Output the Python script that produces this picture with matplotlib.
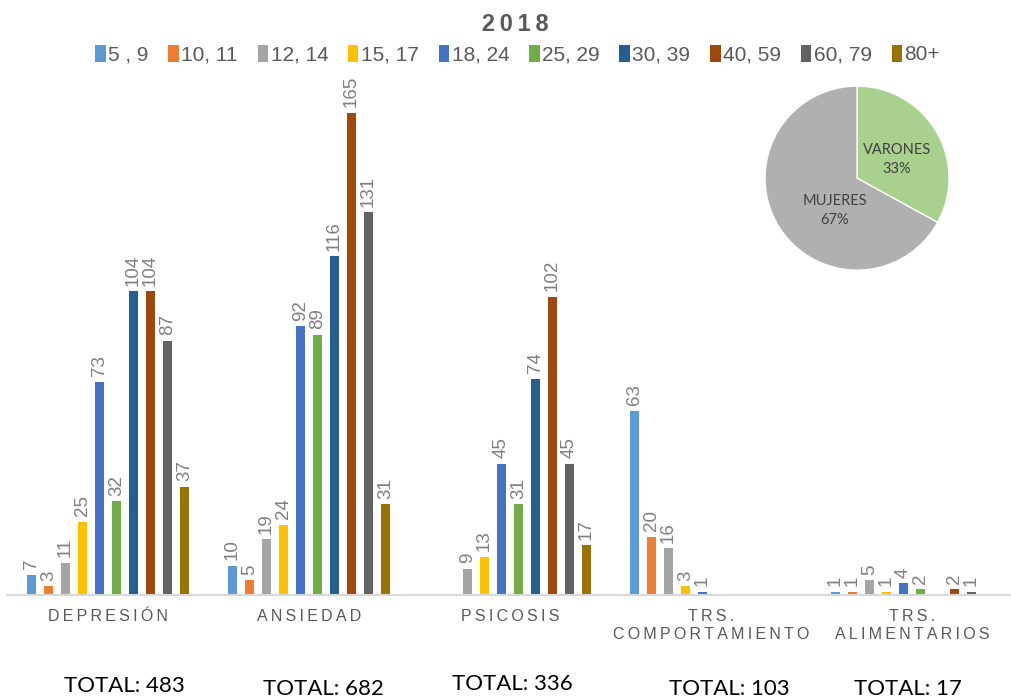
import matplotlib.pyplot as plt
import numpy as np

categories = ["DEPRESIÓN", "ANSIEDAD", "PSICOSIS", "TRS.\nCOMPORTAMIENTO", "TRS.\nALIMENTARIOS"]
age_groups = ["5 , 9", "10, 11", "12, 14", "15, 17", "18, 24", "25, 29", "30, 39", "40, 59", "60, 79", "80+"]
colors = ["#5B9BD5", "#ED7D31", "#A5A5A5", "#FFC000", "#4472C4",
          "#70AD47", "#255E91", "#9E480E", "#636363", "#997300"]

# rows = age group, columns = category
values = [
    [7, 10, 0, 63, 1],
    [3, 5, 0, 20, 1],
    [11, 19, 9, 16, 5],
    [25, 24, 13, 3, 1],
    [73, 92, 45, 1, 4],
    [32, 89, 31, 0, 2],
    [104, 116, 74, 0, 0],
    [104, 165, 102, 0, 2],
    [87, 131, 45, 0, 1],
    [37, 31, 17, 0, 0],
]
totals = ["TOTAL: 483", "TOTAL: 682", "TOTAL: 336", "TOTAL: 103", "TOTAL: 17"]

sex_labels = ["VARONES", "MUJERES"]
sex_pct = [33, 67]
sex_colors = ["#A9D18E", "#B0B0B0"]

plt.rcParams['font.family'] = ['Liberation Sans', 'DejaVu Sans']

fig = plt.figure(figsize=(10.11, 6.98), dpi=100)
ax = fig.add_axes([0.0074, 0.1476, 0.994, 0.7534])

x = np.arange(len(categories))
step = 0.0846
width = 0.046
for j, (name, vals) in enumerate(zip(age_groups, values)):
    bars = ax.bar(x + (j - 4.5) * step, vals, width, color=colors[j], label=name)
    ax.bar_label(bars, labels=[str(v) if v else "" for v in vals], rotation=90,
                 padding=4, fontsize=13.5, color="#808080")

ax.set_xlim(-0.5, 4.5)
ax.set_ylim(0, 180)
for s in ["top", "right", "left"]:
    ax.spines[s].set_visible(False)
ax.spines["bottom"].set_color("#D9D9D9")
ax.spines["bottom"].set_linewidth(1.5)
ax.set_yticks([])
ax.set_xticks(x)
spaced = ["\n".join("\u2009".join(line) for line in c.split("\n")) for c in categories]
ax.set_xticklabels(spaced, fontsize=11.5, color="#595959", linespacing=1.3)
ax.tick_params(axis="x", length=0, pad=10)

for i, t in enumerate(totals):
    dx = [0.08, 0.07, 0.01, 0.09, -0.02][i]
    dy = [0, -3, 2, -3, -3][i]
    ax.annotate(t, (i + dx, 0), xytext=(0, -91 + dy), textcoords="offset pixels",
                ha="center", va="center", fontsize=16, color="black", family="Lato")

fig.text(0.507, 0.965, "\u20092\u20090\u20091\u20098", ha="center", va="center", fontsize=17,
         fontweight="bold", color="#595959")
fig.legend(loc="center", bbox_to_anchor=(0.512, 0.922), ncol=10, frameon=False,
           prop=dict(family=["Liberation Sans Narrow", "Liberation Sans"], size=15),
           handlelength=0.5, handleheight=0.9, handletextpad=0.12,
           columnspacing=0.95, labelcolor="#595959")

pax = fig.add_axes([0.7567, 0.613, 0.182, 0.2636])
pax.pie(sex_pct, colors=sex_colors, startangle=90, counterclock=False,
        wedgeprops=dict(edgecolor="white", linewidth=1))
pax.set_xlim(-1, 1)
pax.set_ylim(-1, 1)
pax.text(0.435, 0.2, f"{sex_labels[0]}\n{sex_pct[0]}%", ha="center", va="center",
         fontsize=10.5, color="#404040", family="Lato", linespacing=1.5)
pax.text(-0.24, -0.35, f"{sex_labels[1]}\n{sex_pct[1]}%", ha="center", va="center",
         fontsize=10.5, color="#404040", family="Lato", linespacing=1.5)

fig.savefig("out.png", dpi=100)
